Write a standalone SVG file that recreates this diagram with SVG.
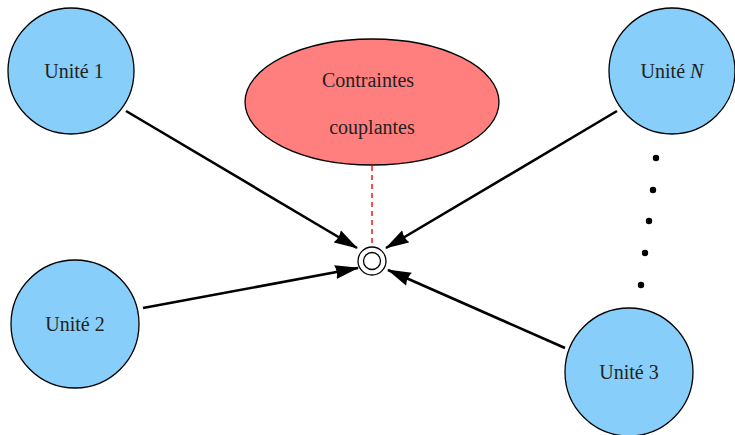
<svg xmlns="http://www.w3.org/2000/svg" width="735" height="435" viewBox="0 0 735 435">
<style>
.unit{fill:#87cefa;stroke:#000;stroke-width:1.3}
.t{font-family:"Liberation Serif","DejaVu Serif",serif;font-size:20px;fill:#222;text-anchor:middle}
.e{stroke:#000;stroke-width:2.6;fill:none}
</style>
<defs>
<marker id="ah" viewBox="0 0 24 16" refX="23" refY="8" markerWidth="24" markerHeight="16" markerUnits="userSpaceOnUse" orient="auto">
<path d="M0,1 L24,8 L0,15 Q3,8 0,1 Z" fill="#000"/>
</marker>
</defs>
<g id="u1"><circle class="unit" cx="71" cy="71" r="63"/><text class="t" x="74" y="78">Unité 1</text></g>
<g id="u2"><circle class="unit" cx="75" cy="324" r="64"/><text class="t" x="75" y="331">Unité 2</text></g>
<g id="uN"><circle class="unit" cx="672" cy="71" r="63"/><text class="t" x="672" y="78">Unité <tspan font-style="italic">N</tspan></text></g>
<g id="u3"><circle class="unit" cx="629" cy="372" r="64"/><text class="t" x="629" y="379">Unité 3</text></g>
<g id="cc"><ellipse cx="372" cy="102" rx="127" ry="63" fill="#ff7f7f" stroke="#000" stroke-width="1.3"/><text class="t" x="368" y="87">Contraintes</text><text class="t" x="372" y="134">couplantes</text></g>
<g id="hub"><circle cx="372" cy="261" r="14" fill="#fff" stroke="#000" stroke-width="1.3"/><circle cx="372" cy="261" r="8.5" fill="none" stroke="#000" stroke-width="1.3"/></g>
<g id="dots" fill="#000"><circle cx="656" cy="158" r="3.2"/><circle cx="653" cy="190" r="3.2"/><circle cx="649" cy="221" r="3.2"/><circle cx="645" cy="253" r="3.2"/><circle cx="641" cy="285" r="3.2"/></g>
<g id="connectors">
<line x1="372" y1="166" x2="372" y2="246" stroke="#ff0000" stroke-width="1.4" stroke-dasharray="5,4"/>
<line class="e" x1="126" y1="111" x2="357" y2="248" marker-end="url(#ah)"/>
<line class="e" x1="143" y1="308" x2="358" y2="268" marker-end="url(#ah)"/>
<line class="e" x1="617" y1="111" x2="386" y2="248" marker-end="url(#ah)"/>
<line class="e" x1="565" y1="348" x2="388" y2="270" marker-end="url(#ah)"/>
</g>
</svg>
